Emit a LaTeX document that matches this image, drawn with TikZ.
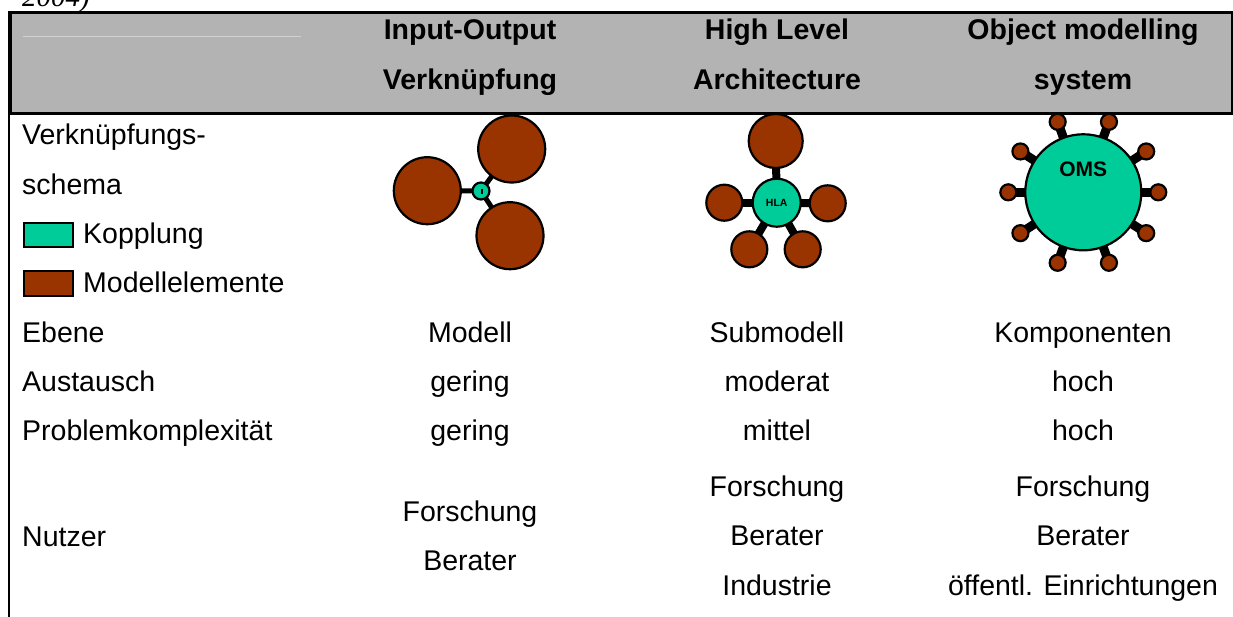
\documentclass[tikz,border=0pt]{standalone}
\usepackage{fontspec}
\setmainfont{Liberation Sans}
\newfontfamily\tnr{Liberation Serif}
\usetikzlibrary{calc,backgrounds}
\definecolor{teal}{HTML}{00CC99}
\definecolor{brownel}{HTML}{993300}
\definecolor{headgray}{HTML}{B3B3B3}
\tikzset{
  txt/.style={font=\fontsize{28.5}{34}\selectfont, inner sep=0pt, anchor=base},
  ltxt/.style={txt, anchor=base west},
  htxt/.style={txt, font=\fontsize{28.5}{34}\selectfont\bfseries},
  hub/.style={circle, draw=black, line width=2.2pt, fill=teal, inner sep=0pt},
  mel/.style={circle, draw=black, line width=2.2pt, fill=brownel, inner sep=0pt},
  spoke/.style={draw=black, line width=#1},
  swatch/.style={draw=black, line width=2pt}
}
\begin{document}
\begin{tikzpicture}[x=1pt, y=-1pt]
\useasboundingbox (0,0) rectangle (1233,616);

% caption tail above the table
\node[inner sep=0pt, anchor=base west, font=\tnr\itshape\fontsize{29}{34}\selectfont] (cap) at (22,6.5) {2004)};

% header row
\node[draw=black, line width=2.5pt, fill=headgray, inner sep=0pt, anchor=north west,
      minimum width=1222pt, minimum height=101pt] (head) at (9,11) {};
\draw[draw=black!18, line width=0.8pt] (23,36) -- (301,36);
\coordinate (lt) at (9,11);
\coordinate (lb) at (9,620);
\draw[line width=2.5pt] (lt) -- (lb);

\node[htxt] (h1a) at (470,39) {Input-Output};
\node[htxt] (h1b) at (470,89) {Verknüpfung};
\node[htxt] (h2a) at (777,39) {High Level};
\node[htxt] (h2b) at (777,89) {Architecture};
\node[htxt] (h3a) at (1083,39) {Object modelling};
\node[htxt] (h3b) at (1083,89) {system};

% left column
\node[ltxt] (r1a) at (22,144.5) {Verknüpfungs-};
\node[ltxt] (r1b) at (22,194) {schema};
\node[swatch, fill=teal, inner sep=0pt, anchor=north west, minimum width=49pt, minimum height=24pt] (sw1) at (23.3,221.7) {};
\node[ltxt] (r1c) at (83,243.3) {Kopplung};
\node[swatch, fill=brownel, inner sep=0pt, anchor=north west, minimum width=49pt, minimum height=25pt] (sw2) at (23.3,270) {};
\node[ltxt] (r1d) at (83,292.7) {Modellelemente};
\node[ltxt] (r2) at (22,342.1) {Ebene};
\node[ltxt] (r3) at (22,391.5) {Austausch};
\node[ltxt] (r4) at (22,440.9) {Problemkomplexität};
\node[ltxt] (r5) at (22,546) {Nutzer};

% values
\node[txt] (v21) at (470,342.1) {Modell};
\node[txt] (v22) at (777,342.1) {Submodell};
\node[txt] (v23) at (1083,342.1) {Komponenten};
\node[txt] (v31) at (470,391.5) {gering};
\node[txt] (v32) at (777,391.5) {moderat};
\node[txt] (v33) at (1083,391.5) {hoch};
\node[txt] (v41) at (470,440.9) {gering};
\node[txt] (v42) at (777,440.9) {mittel};
\node[txt] (v43) at (1083,440.9) {hoch};
\node[txt] (v51a) at (470,521) {Forschung};
\node[txt] (v51b) at (470,570.4) {Berater};
\node[txt] (v52a) at (777,496.3) {Forschung};
\node[txt] (v52b) at (777,545.7) {Berater};
\node[txt] (v52c) at (777,595) {Industrie};
\node[txt] (v53a) at (1083,496.3) {Forschung};
\node[txt] (v53b) at (1083,545.7) {Berater};
\node[txt] (v53c) at (1083,595) {öffentl. Einrichtungen};

% input-output coupling
\node[hub, minimum size=17pt] (io) at (481,191) {};
\node[mel, minimum size=67pt] (io1) at (427.3,190.7) {};
\node[mel, minimum size=67pt] (io2) at (511.7,149) {};
\node[mel, minimum size=67pt] (io3) at (510,235.7) {};
\draw[line width=1.8pt] ($(io.center)+(1.3,-2.5)$) -- ($(io.center)+(1.3,2.5)$);

% high level architecture
\node[hub, minimum size=48pt, font=\bfseries\fontsize{10.5}{12}\selectfont] (hla) at (776.7,202.7) {HLA};
\node[mel, minimum size=54pt] (hl1) at (775.7,141) {};
\node[mel, minimum size=36pt] (hl2) at (724.3,202.7) {};
\node[mel, minimum size=36pt] (hl3) at (827.7,203.3) {};
\node[mel, minimum size=36pt] (hl4) at (749.3,249.3) {};
\node[mel, minimum size=36pt] (hl5) at (802.7,249.3) {};

% object modelling system
\node[hub, minimum size=116pt] (oms) at (1083.3,192.3) {};
\node[inner sep=0pt, font=\bfseries\fontsize{21}{24}\selectfont] (omsl) at (1083.3,169) {OMS};
\foreach \a [count=\i] in {0,33,70,110,147,180,213,250,290,327}
  \node[mel, minimum size=16pt] (om\i) at ($(oms.center)+(\a:75)$) {};

\begin{pgfonlayer}{background}
  \foreach \s in {io1,io2,io3} \draw[spoke=5pt] (io.center) -- (\s.center);
  \foreach \s in {hl1,hl2,hl3,hl4,hl5} \draw[spoke=8pt] (hla.center) -- (\s.center);
  \foreach \i in {1,...,10} \draw[spoke=9pt] (oms.center) -- (om\i.center);
\end{pgfonlayer}
\end{tikzpicture}
\end{document}
